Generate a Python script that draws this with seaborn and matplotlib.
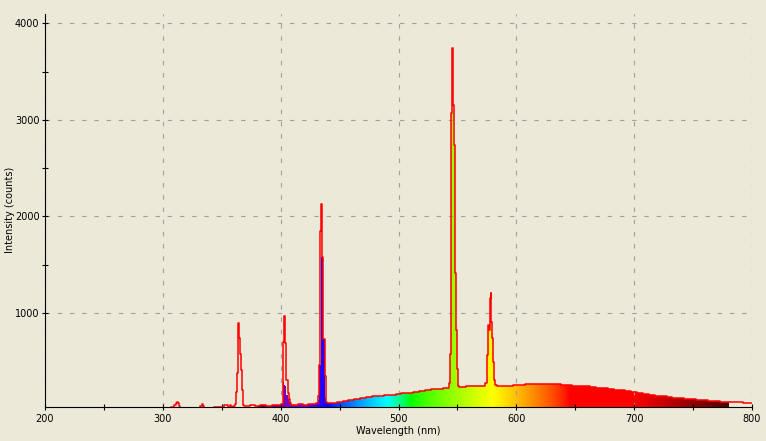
import numpy as np
import matplotlib
matplotlib.use("Agg")
import matplotlib.pyplot as plt
from matplotlib.ticker import FixedLocator
import seaborn as sns

# ---------------- data ----------------
# broad baseline / phosphor continuum (nm, counts)
cont_wl = [200, 230, 260, 290, 305, 315, 330, 336, 350, 354.5, 356, 357.5, 359,
           370, 372, 376, 380, 385, 390, 395, 400,
           411, 413, 417, 421, 425, 429, 431.6,
           439.5, 442, 445, 450, 455, 460, 465, 470, 475, 480, 485, 490, 495, 500,
           505, 510, 515, 520, 525, 530, 535, 540, 542.5, 543.6,
           552.5, 555, 560, 565, 570, 573, 574.5,
           584, 585, 590, 595, 600, 605, 610, 615, 620, 625, 630, 635, 640, 645,
           650, 655, 660, 665, 670, 675, 680, 685, 690, 695, 700, 705, 710, 715,
           720, 725, 730, 735, 740, 745, 750, 755, 760, 765, 770, 775, 780, 785,
           790, 795, 800]
cont_counts = [18, 18, 18, 18, 18, 18, 18, 18, 20, 45, 25, 45, 28,
               32, 40, 42, 38, 42, 40, 42, 45,
               48, 50, 52, 50, 55, 58, 63,
               63, 65, 70, 76, 85, 95, 108, 120, 130, 138, 143, 148, 152, 156,
               165, 175, 183, 193, 202, 210, 214, 217, 225, 275,
               228, 232, 238, 240, 243, 245, 272,
               240, 238, 242, 245, 250, 252, 258, 262, 262, 260, 259, 258, 255, 250,
               247, 242, 239, 233, 226, 218, 212, 206, 198, 186, 178, 168, 160, 152,
               142, 134, 127, 122, 116, 110, 104, 98, 93, 88, 84, 80, 78, 75,
               72, 68, 63]

# small UV lines
uv_wl = [309.5, 310.3, 311.2, 312.0, 312.9, 313.7, 332.5, 333.4, 334.3]
uv_counts = [20, 45, 63, 79, 63, 35, 40, 53, 40]

# emission lines: wavelength, red trace counts, colour-fill counts
hg365_wl = [360.8, 361.6, 362.5, 363.3, 364.1, 365.0, 365.8, 366.7, 367.5, 368.4]
hg365_counts = [40, 60, 182, 372, 893, 740, 578, 406, 200, 45]
hg365_fill = [40, 60, 182, 372, 893, 740, 578, 406, 200, 45]

hg405_wl = [401.2, 402.0, 402.8, 403.7, 404.5, 405.4, 406.2, 407.1, 407.9, 409.0]
hg405_counts = [60, 300, 700, 972, 690, 300, 170, 110, 70, 50]
hg405_fill = [60, 285, 285, 250, 240, 150, 110, 85, 65, 50]

hg436_wl = [432.5, 433.4, 434.2, 435.1, 435.9, 436.8, 437.6, 438.5]
hg436_counts = [138, 457, 1847, 2128, 1577, 726, 344, 80]
hg436_fill = [100, 457, 457, 1577, 1577, 726, 120, 70]

hg546_wl = [544.4, 545.2, 546.0, 546.6, 547.3, 548.2, 549.0, 549.9, 550.8]
hg546_counts = [578, 3073, 3743, 3153, 2741, 1408, 825, 423, 240]
hg546_fill = [578, 3073, 3073, 2741, 2741, 1408, 825, 423, 240]

hg578_wl = [575.4, 576.2, 577.0, 577.7, 578.5, 579.3, 580.1, 580.9, 581.8, 582.7]
hg578_counts = [560, 870, 820, 1150, 1209, 903, 735, 491, 300, 250]
hg578_fill = [560, 580, 820, 820, 903, 903, 735, 491, 300, 250]

x_major = [200, 300, 400, 500, 600, 700, 800]
x_minor = [250, 350, 450, 550, 650, 750]
y_major = [1000, 2000, 3000, 4000]
y_minor = [1500, 2500, 3500]

# ---------------- assemble ----------------
wl = list(cont_wl) + uv_wl + hg365_wl + hg405_wl + hg436_wl + hg546_wl + hg578_wl
line_c = list(cont_counts) + uv_counts + hg365_counts + hg405_counts + hg436_counts + hg546_counts + hg578_counts
fill_c = list(cont_counts) + uv_counts + hg365_fill + hg405_fill + hg436_fill + hg546_fill + hg578_fill
order = np.argsort(wl, kind="stable")
wl = np.asarray(wl, float)[order]
line_c = np.asarray(line_c, float)[order]
fill_c = np.asarray(fill_c, float)[order]


def wl_to_rgb(w):
    if w < 440:
        r, g, b = -(w - 440) / 60.0, 0.0, 1.0
    elif w < 490:
        r, g, b = 0.0, (w - 440) / 50.0, 1.0
    elif w < 510:
        r, g, b = 0.0, 1.0, -(w - 510) / 20.0
    elif w < 580:
        r, g, b = (w - 510) / 70.0, 1.0, 0.0
    elif w < 645:
        r, g, b = 1.0, -(w - 645) / 65.0, 0.0
    else:
        r, g, b = 1.0, 0.0, 0.0
    if w < 420:
        f = 0.3 + 0.7 * (w - 380) / 40.0
    elif w <= 700:
        f = 1.0
    else:
        f = 0.3 + 0.7 * (780 - w) / 80.0
    return [max(0.0, c) ** 0.8 * f for c in (r, g, b)]


BG = "#ECE9D8"
plt.rcParams.update({
    "font.family": ["DejaVu Sans"],
    "font.size": 7,
    "axes.linewidth": 0.8,
})

fig = plt.figure(figsize=(7.66, 4.41), dpi=100, facecolor=BG)
ax = fig.add_axes([45 / 766, 1 - 406.7 / 441, (752 - 45) / 766, (406.7 - 14) / 441])
ax.set_facecolor(BG)

ymin, ymax = 28, 4096
ax.set_xlim(200, 800)
ax.set_ylim(ymin, ymax)

# spectral colour fill clipped to the area under the fill trace
spec_wl = np.arange(380, 780.5, 0.5)
img = np.array([[wl_to_rgb(w) for w in spec_wl]])
im = ax.imshow(img, extent=[380, 780, 0, ymax], aspect="auto", origin="lower",
               interpolation="bilinear", zorder=1)
poly = ax.fill_between(wl, fill_c, 0, step="mid", facecolor="none", edgecolor="none")
im.set_clip_path(poly.get_paths()[0], ax.transData)

# red trace
sns.lineplot(x=wl, y=line_c, ax=ax, color="#FF0000", linewidth=1.1,
             drawstyle="steps-mid", estimator=None, sort=False, zorder=3)

ax.set_xlim(200, 800)
ax.set_ylim(ymin, ymax)

# ticks & grid
ax.xaxis.set_major_locator(FixedLocator(x_major))
ax.xaxis.set_minor_locator(FixedLocator(x_minor))
ax.yaxis.set_major_locator(FixedLocator(y_major))
ax.yaxis.set_minor_locator(FixedLocator(y_minor))
ax.tick_params(which="both", direction="inout", length=4, width=0.8, colors="black",
               labelsize=7)
ax.tick_params(axis="x", which="major", pad=3)
ax.tick_params(axis="y", which="major", pad=2)
ax.set_axisbelow("line")
ax.grid(True, which="major", color="#A0A0A0", linewidth=0.8, linestyle=(0, (4, 7)))

for s in ("top", "right"):
    ax.spines[s].set_visible(False)
for s in ("left", "bottom"):
    ax.spines[s].set_color("black")
    ax.spines[s].set_zorder(4)

ax.set_xlabel("Wavelength (nm)", fontsize=7, labelpad=2)
ax.set_ylabel("Intensity (counts)", fontsize=7)
ax.yaxis.set_label_coords(-0.043, 0.5)

fig.savefig("out.png", dpi=100, facecolor=BG)
